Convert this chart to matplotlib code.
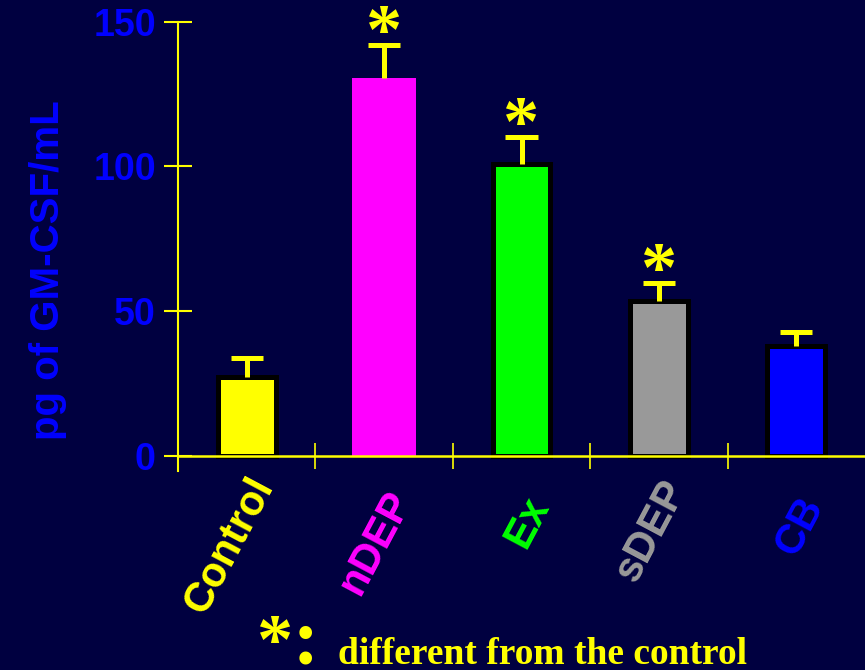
import numpy as np
import matplotlib.pyplot as plt

# data
grupos = ['Control', 'nDEP', 'Ex', 'sDEP', 'CB']
valores = [27.2, 130.7, 100.7, 53.4, 37.9]
erros = [6.6, 11.4, 9.4, 6.3, 4.9]
significativo = [False, True, True, True, False]
cores = ['#ffff00', '#ff00ff', '#00ff00', '#999999', '#0000ff']
bordas = ['black', 'none', 'black', 'black', 'black']
yticks = [0, 50, 100, 150]

# ajuste fino de onde cada rotulo do eixo x fica (em unidades do eixo y)
desloc_rotulo = [-5, -10, -12, -6, -12]

FUNDO = '#000040'
AMARELO = '#ffff00'
AZUL = '#0000ff'

plt.rcParams['font.family'] = ['Liberation Sans', 'DejaVu Sans']

fig = plt.figure(figsize=(8.65, 6.7), dpi=100, facecolor=FUNDO)
ax = fig.add_axes([178 / 865, 1 - 470.5 / 670, 1 - 178 / 865, (470.5 - 21.7) / 670])
ax.set_facecolor(FUNDO)

x = np.arange(len(grupos))

#BARRAS
for i in range(len(grupos)):
    lw = 3.6 if bordas[i] != 'none' else 0
    ax.bar(x[i], valores[i], width=0.42 if lw else 0.46, color=cores[i],
           edgecolor=bordas[i], linewidth=lw, zorder=2)

#ERROS (so para cima)
topos = np.array(valores) + np.array(erros)
ax.vlines(x, valores, topos, color=AMARELO, lw=3.6, zorder=3)
ax.hlines(topos, x - 0.117, x + 0.117, color=AMARELO, lw=3.6, zorder=3)

#ESTRELAS
for i in range(len(grupos)):
    if significativo[i]:
        ax.text(x[i], topos[i] - 2.8, '*', color=AMARELO, ha='center', va='baseline',
                fontsize=52, fontweight='bold', family='Liberation Serif', zorder=4)

#EIXOS
ax.set_xlim(-0.5, 4.5)
ax.set_ylim(-5, 150)
for s in ['top', 'right', 'bottom']:
    ax.spines[s].set_visible(False)
ax.spines['left'].set_color(AMARELO)
ax.spines['left'].set_linewidth(1.5)
ax.axhline(0, color=AMARELO, lw=1.8, zorder=5)
ax.vlines(x[:-1] + 0.5, -4.5, 4.5, color=AMARELO, lw=1.2, zorder=5)

ax.set_yticks(yticks)
ax.tick_params(axis='y', direction='inout', length=20, width=1.5, color=AMARELO,
               labelcolor=AZUL, labelsize=27, pad=6)
for t in ax.get_yticklabels():
    t.set_fontweight('bold')
ax.set_xticks([])

ax.set_ylabel('pg of GM-CSF/mL', color=AZUL, fontsize=29, fontweight='bold')
ax.yaxis.set_label_coords(-0.162, 0.447)

for i in range(len(grupos)):
    ax.text(x[i], desloc_rotulo[i], grupos[i], color=cores[i], fontsize=30, fontweight='bold',
            rotation=62, rotation_mode='anchor', ha='right', va='top', clip_on=False)

#LEGENDA EMBAIXO
fig.text(275 / 865, 1 - 663 / 670, '*', color=AMARELO, fontsize=52, fontweight='bold',
         ha='center', va='baseline', family='Liberation Serif')
fig.text(306 / 865, 1 - 664 / 670, ':', color=AMARELO, fontsize=56, fontweight='bold',
         ha='center', va='baseline', family='Liberation Serif')
fig.text(338 / 865, 1 - 664 / 670, 'different from the control', color=AMARELO,
         fontsize=27, fontweight='bold', family='Liberation Serif', va='baseline')

fig.savefig('out.png', dpi=100, facecolor=FUNDO)
